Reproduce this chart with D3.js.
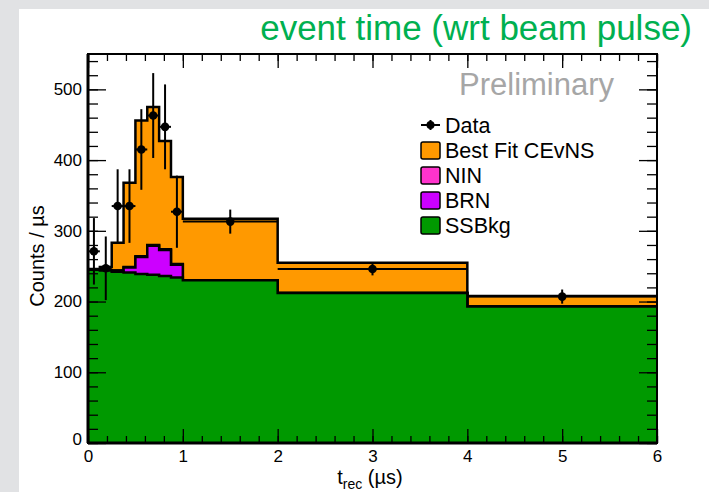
<!DOCTYPE html>
<html><head><meta charset="utf-8">
<script src="https://cdn.jsdelivr.net/npm/d3@7"></script>
<style>
html,body{margin:0;padding:0;background:#e1e2e4;}
svg{display:block;font-family:"Liberation Sans",Arial,Helvetica,sans-serif;}
</style></head>
<body><svg id="c" width="709" height="492"></svg>
<script>
// ---- data ----
const binEdges = [0,0.125,0.25,0.375,0.5,0.625,0.75,0.875,1,2,4,6];
const ssbkg  = [245,244,242,241,239,238,236,234,230,212,193];
const brn    = [0,0,2,7,24,41,37,18,0,0,0];
const nin    = [0,0,0,1,1,1,1,1,0,0,0];
const cevns  = [1,5,39,119,192,195,153,123,87,43,15];
const dataVal = [271,247,335,335,415,463,447,327,313,246,207];
const dataErr = [47,45,52,52,57,60,60,51,17,9,10];
const xTicks = [0,1,2,3,4,5,6];
const yTicks = [0,100,200,300,400,500];
const legendItems = ["Data","Best Fit CEvNS","NIN","BRN","SSBkg"];
const colors = {cevns:"#ff9900", nin:"#ff33cc", brn:"#cc00ff", ssbkg:"#009900"};

// ---- layout ----
const svg = d3.select("#c");
const L=88, R=657, T=54, B=443;
const x = d3.scaleLinear().domain([0,6]).range([L,R]);
const y = d3.scaleLinear().domain([0,550]).range([B,T]);

svg.append("rect").attr("x",19).attr("y",9).attr("width",709-19).attr("height",492-9).attr("fill","#fff");

// title
svg.append("text").attr("x",692).attr("y",40).attr("text-anchor","end")
  .attr("font-size",35).attr("fill","#00b050").text("event time (wrt beam pulse)");

// stacked histograms
const nb = ssbkg.length;
const cum1 = ssbkg.slice();
const cum2 = cum1.map((v,i)=>v+brn[i]);
const cum3 = cum2.map((v,i)=>v+nin[i]);
const cum4 = cum3.map((v,i)=>v+cevns[i]);
function pts(vals){
  const p = vals.map((v,i)=>[binEdges[i],v]);
  p.push([binEdges[nb], vals[nb-1]]);
  return p;
}
const area = d3.area().x(d=>x(d[0])).y0(y(0)).y1(d=>y(d[1])).curve(d3.curveStepAfter);
const line = d3.line().x(d=>x(d[0])).y(d=>y(d[1])).curve(d3.curveStepAfter);
const g = svg.append("g");
[[cum4,colors.cevns],[cum3,colors.nin],[cum2,colors.brn],[cum1,colors.ssbkg]].forEach(([vals,col])=>{
  g.append("path").attr("d",area(pts(vals))).attr("fill",col);
  g.append("path").attr("d",line(pts(vals))).attr("fill","none").attr("stroke","#000").attr("stroke-width",2.5);
});

// data points
const dg = svg.append("g");
dataVal.forEach((v,i)=>{
  const xc = (binEdges[i]+binEdges[i+1])/2;
  dg.append("line").attr("x1",x(binEdges[i])).attr("x2",x(binEdges[i+1]))
    .attr("y1",y(v)).attr("y2",y(v)).attr("stroke","#000").attr("stroke-width",2);
  dg.append("line").attr("x1",x(xc)).attr("x2",x(xc))
    .attr("y1",y(v-dataErr[i])).attr("y2",y(v+dataErr[i])).attr("stroke","#000").attr("stroke-width",2);
  dg.append("circle").attr("cx",x(xc)).attr("cy",y(v)).attr("r",4.3).attr("fill","#000");
});

// axes
function styleAxis(sel){
  sel.select(".domain").remove();
  sel.selectAll("line").attr("stroke","#000").attr("stroke-width",1.3);
  sel.selectAll("text").attr("font-size",17).attr("fill","#000")
     .attr("font-family","Liberation Sans, Arial, sans-serif");
}
const xMinor = d3.range(0,6.0001,0.2);
const yMinor = d3.range(0,550.0001,20);
svg.append("g").attr("transform",`translate(0,${B})`)
  .call(d3.axisBottom(x).tickValues(xMinor).tickSize(-7).tickFormat("")).call(styleAxis);
svg.append("g").attr("transform",`translate(0,${B})`)
  .call(d3.axisBottom(x).tickValues(xTicks).tickSize(-14).tickPadding(7).tickFormat(d3.format("d"))).call(styleAxis);
svg.append("g").attr("transform",`translate(0,${T})`)
  .call(d3.axisTop(x).tickValues(xMinor).tickSize(-7).tickFormat("")).call(styleAxis);
svg.append("g").attr("transform",`translate(0,${T})`)
  .call(d3.axisTop(x).tickValues(xTicks).tickSize(-14).tickFormat("")).call(styleAxis);
svg.append("g").attr("transform",`translate(${L},0)`)
  .call(d3.axisLeft(y).tickValues(yMinor).tickSize(-10).tickFormat("")).call(styleAxis);
const ya = svg.append("g").attr("transform",`translate(${L},0)`)
  .call(d3.axisLeft(y).tickValues(yTicks).tickSize(-18).tickPadding(-12).tickFormat(d3.format("d"))).call(styleAxis);
ya.selectAll("text").attr("x",-6).filter(d=>d===0).attr("dy","0.1em");
svg.append("g").attr("transform",`translate(${R},0)`)
  .call(d3.axisRight(y).tickValues(yMinor).tickSize(-10).tickFormat("")).call(styleAxis);
svg.append("g").attr("transform",`translate(${R},0)`)
  .call(d3.axisRight(y).tickValues(yTicks).tickSize(-18).tickFormat("")).call(styleAxis);

// frame
svg.append("rect").attr("x",L).attr("y",T).attr("width",R-L).attr("height",B-T)
  .attr("fill","none").attr("stroke","#000").attr("stroke-width",2);
svg.append("line").attr("x1",L).attr("x2",R).attr("y1",B).attr("y2",B).attr("stroke","#000").attr("stroke-width",3);
svg.append("line").attr("x1",L).attr("x2",L).attr("y1",T).attr("y2",B).attr("stroke","#000").attr("stroke-width",3);

// axis titles
const xt = svg.append("text").attr("x",370).attr("y",484).attr("text-anchor","middle").attr("font-size",20);
xt.append("tspan").text("t");
xt.append("tspan").attr("font-size",14).attr("dy",5).text("rec");
xt.append("tspan").attr("dy",-5).text(" (µs)");
svg.append("text").attr("transform","translate(44,256) rotate(-90)").attr("text-anchor","middle")
  .attr("font-size",20).text("Counts / µs");

// Preliminary
svg.append("text").attr("x",459).attr("y",95).attr("font-size",31).attr("fill","#a6a6a6").text("Preliminary");

// legend
const lg = svg.append("g");
const rowY = [125,150.5,175.5,200.5,225.5];
const boxCols = [null,colors.cevns,colors.nin,colors.brn,colors.ssbkg];
legendItems.forEach((name,i)=>{
  const cy = rowY[i];
  if(i===0){
    lg.append("line").attr("x1",421).attr("x2",440).attr("y1",cy).attr("y2",cy).attr("stroke","#000").attr("stroke-width",2);
    lg.append("line").attr("x1",430.5).attr("x2",430.5).attr("y1",cy-5).attr("y2",cy+5).attr("stroke","#000").attr("stroke-width",2);
    lg.append("circle").attr("cx",430.5).attr("cy",cy).attr("r",4).attr("fill","#000");
  } else {
    lg.append("rect").attr("x",421).attr("y",cy-8.5).attr("width",19).attr("height",17).attr("rx",2)
      .attr("fill",boxCols[i]).attr("stroke","#000").attr("stroke-width",1.5);
  }
  lg.append("text").attr("x",445).attr("y",cy+7.5).attr("font-size",21.5).text(name);
});
</script></body></html>
